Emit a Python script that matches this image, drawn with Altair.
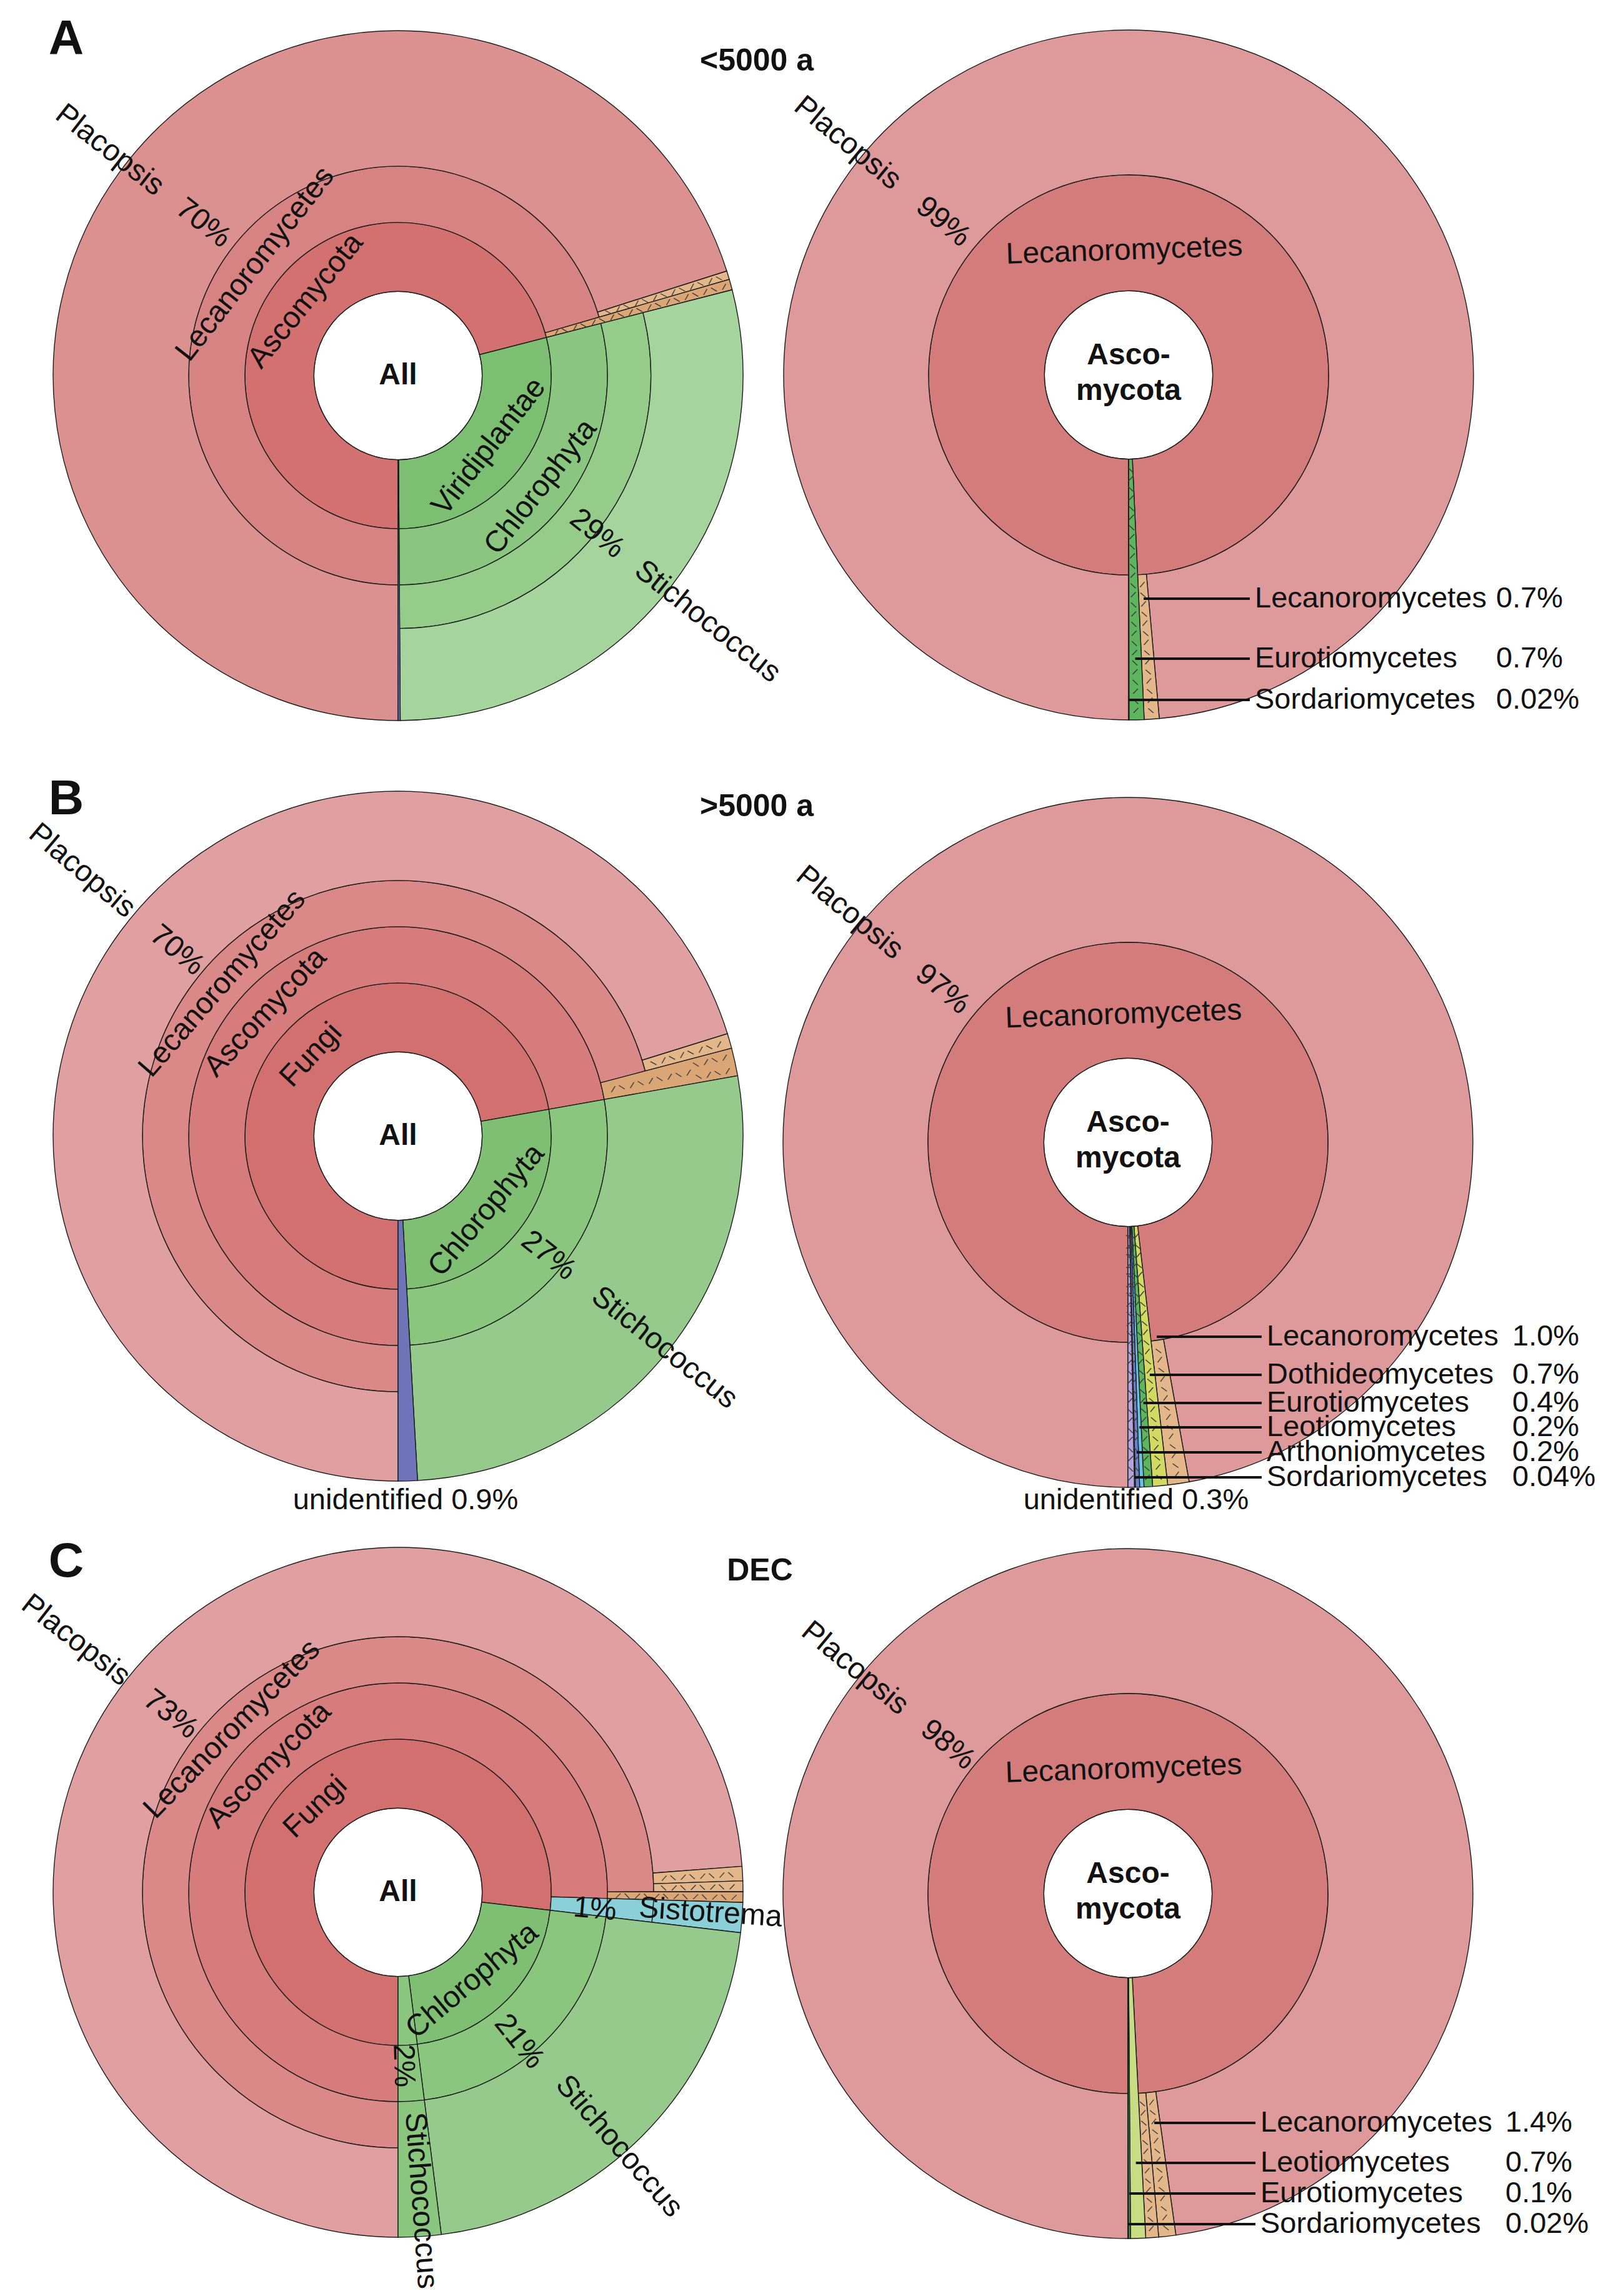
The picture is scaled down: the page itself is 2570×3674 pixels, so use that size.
import math
import altair as alt
import pandas as pd

# ------------------------------------------------------------------
# DATA : taxonomic trees
# (node id, parent id, share of reads in %, colour group, ranks spanned)
# children are listed in the clockwise order in which they are drawn
# ------------------------------------------------------------------
A_LEFT = [
    ("All", None, 100.0, "root", 1),
    ("Ascomycota", "All", 71.0, "redA1", 1),
    ("Lecanoromycetes", "Ascomycota", 70.5, "redA2", 1),
    ("Placopsis", "Lecanoromycetes", 70.1, "redA3", 2),
    ("Lecanoromycetes other", "Lecanoromycetes", 0.4, "tan1", 2),
    ("Ascomycota other", "Ascomycota", 0.5, "tan2", 3),
    ("Viridiplantae", "All", 28.9, "grnA1", 1),
    ("Chlorophyta", "Viridiplantae", 28.9, "grnA2", 1),
    ("Trebouxiophyceae", "Chlorophyta", 28.9, "grnA3", 1),
    ("Stichococcus", "Trebouxiophyceae", 28.9, "grnA4", 1),
    ("unidentified", "All", 0.1, "unid", 4),
]

A_RIGHT = [
    ("Ascomycota", None, 100.0, "root", 1),
    ("Lecanoromycetes", "Ascomycota", 99.28, "redR1", 1),
    ("Placopsis", "Lecanoromycetes", 98.58, "redR2", 1),
    ("Lecanoromycetes other", "Lecanoromycetes", 0.7, "tan1", 1),
    ("Eurotiomycetes", "Ascomycota", 0.7, "grnE", 2),
    ("Sordariomycetes", "Ascomycota", 0.02, "pur", 2),
]

B_LEFT = [
    ("All", None, 100.0, "root", 1),
    ("Fungi", "All", 72.2, "red1", 1),
    ("Ascomycota", "Fungi", 72.2, "red2", 1),
    ("Lecanoromycetes", "Ascomycota", 70.9, "red3", 1),
    ("Placopsis", "Lecanoromycetes", 70.2, "red4", 1),
    ("Lecanoromycetes other", "Lecanoromycetes", 0.7, "tan1", 1),
    ("Ascomycota other", "Ascomycota", 1.3, "tan2", 2),
    ("Chlorophyta", "All", 26.9, "grn1", 1),
    ("Trebouxiophyceae", "Chlorophyta", 26.9, "grn2", 1),
    ("Stichococcus", "Trebouxiophyceae", 26.9, "grn3", 2),
    ("unidentified", "All", 0.9, "unid", 4),
]

B_RIGHT = [
    ("Ascomycota", None, 100.0, "root", 1),
    ("Lecanoromycetes", "Ascomycota", 98.16, "redR1", 1),
    ("Placopsis", "Lecanoromycetes", 97.16, "redR2", 1),
    ("Lecanoromycetes other", "Lecanoromycetes", 1.0, "tan1", 1),
    ("Dothideomycetes", "Ascomycota", 0.7, "yel", 2),
    ("Eurotiomycetes", "Ascomycota", 0.4, "grnE", 2),
    ("Leotiomycetes", "Ascomycota", 0.2, "cyanL", 2),
    ("Arthoniomycetes", "Ascomycota", 0.2, "blu", 2),
    ("Sordariomycetes", "Ascomycota", 0.04, "pur", 2),
    ("unidentified", "Ascomycota", 0.3, "lav", 2),
]

C_LEFT = [
    ("All", None, 100.0, "root", 1),
    ("Fungi", "All", 76.87, "red1", 1),
    ("Ascomycota", "Fungi", 75.47, "red2", 1),
    ("Lecanoromycetes", "Ascomycota", 74.97, "red3", 1),
    ("Placopsis", "Lecanoromycetes", 73.8, "red4", 1),
    ("Lecanoromycetes other 1", "Lecanoromycetes", 0.67, "tan1", 1),
    ("Lecanoromycetes other 2", "Lecanoromycetes", 0.5, "tan1", 1),
    ("Ascomycota other", "Ascomycota", 0.5, "tan2", 2),
    ("Basidiomycota", "Fungi", 1.4, "cyan", 1),
    ("Agaricomycetes", "Basidiomycota", 1.4, "cyan", 1),
    ("Sistotrema", "Agaricomycetes", 1.4, "cyan", 1),
    ("Chlorophyta", "All", 21.13, "grn1", 1),
    ("Trebouxiophyceae", "Chlorophyta", 21.13, "grn2", 1),
    ("Stichococcus", "Trebouxiophyceae", 21.13, "grn3", 2),
    ("Chlorophyta 2", "All", 2.0, "grn2", 1),
    ("Trebouxiophyceae 2", "Chlorophyta 2", 2.0, "grn2", 1),
    ("Stichococcus 2", "Trebouxiophyceae 2", 2.0, "grn2", 2),
]

C_RIGHT = [
    ("Ascomycota", None, 100.0, "root", 1),
    ("Lecanoromycetes", "Ascomycota", 99.18, "redR1", 1),
    ("Placopsis", "Lecanoromycetes", 97.78, "redR2", 1),
    ("Lecanoromycetes other 1", "Lecanoromycetes", 0.8, "tan1", 1),
    ("Lecanoromycetes other 2", "Lecanoromycetes", 0.6, "tan1", 1),
    ("Leotiomycetes", "Ascomycota", 0.7, "ygr", 2),
    ("Eurotiomycetes", "Ascomycota", 0.1, "dgr", 2),
    ("Sordariomycetes", "Ascomycota", 0.02, "pur", 2),
]

# call-outs of the right-hand panels: (class name, printed share, slice pointed at)
A_RIGHT_CALLOUTS = [
    ("Lecanoromycetes", "0.7%", "Lecanoromycetes other"),
    ("Eurotiomycetes", "0.7%", "Eurotiomycetes"),
    ("Sordariomycetes", "0.02%", "Sordariomycetes"),
]
B_RIGHT_CALLOUTS = [
    ("Lecanoromycetes", "1.0%", "Lecanoromycetes other"),
    ("Dothideomycetes", "0.7%", "Dothideomycetes"),
    ("Eurotiomycetes", "0.4%", "Eurotiomycetes"),
    ("Leotiomycetes", "0.2%", "Leotiomycetes"),
    ("Arthoniomycetes", "0.2%", "Arthoniomycetes"),
    ("Sordariomycetes", "0.04%", "Sordariomycetes"),
]
C_RIGHT_CALLOUTS = [
    ("Lecanoromycetes", "1.4%", "Lecanoromycetes other 1"),
    ("Leotiomycetes", "0.7%", "Leotiomycetes"),
    ("Eurotiomycetes", "0.1%", "Eurotiomycetes"),
    ("Sordariomycetes", "0.02%", "Sordariomycetes"),
]

PANEL_TITLES = ["<5000 a", ">5000 a", "DEC"]
PANEL_LETTERS = ["A", "B", "C"]

# ------------------------------------------------------------------
# LAYOUT / STYLE
# ------------------------------------------------------------------
FONT = "Liberation Sans"
FS = 48
FS_CALLOUT = 47
R = 552
W, H = 2554, 3658
M = 8  # page margin

CENTRES = {"AL": (637, 601), "AR": (1806, 600),
           "BL": (637, 1818), "BR": (1805, 1828),
           "CL": (637, 3028), "CR": (1805, 3030)}

RINGS_AL = [0, 0.244, 0.444, 0.607, 0.733, 1.0]
RINGS_L = [0, 0.244, 0.444, 0.607, 0.741, 1.0]
RINGS_R = [0, 0.244, 0.58, 1.0]

PALETTE = {
    "root": "#FFFFFF",
    "redA1": "#D37171", "redA2": "#D88383", "redA3": "#DC9191",
    "red1": "#D27070", "red2": "#D67C7C", "red3": "#DA8888", "red4": "#E0A0A1",
    "redR1": "#D47C7C", "redR2": "#DE9A9B",
    "grnA1": "#7DBF72", "grnA2": "#8AC67F", "grnA3": "#95CC8A", "grnA4": "#A6D49D",
    "grn1": "#7EBF73", "grn2": "#8AC67E", "grn3": "#96CA8D",
    "tan1": "#E3B789", "tan2": "#DBA676",
    "unid": "#6F74B8", "cyan": "#8BD0D8",
    "yel": "#D3DA62", "grnE": "#5DB55E", "blu": "#6E80C9", "cyanL": "#66C4E2",
    "pur": "#9E84CC", "lav": "#B7A3DA", "ygr": "#C8DC84", "dgr": "#4E9E5C",
}
HATCHED = {"tan1", "tan2", "grnE", "yel", "blu", "lav"}

# label placement: (text, clock angle in degrees, radius fraction, mode)
LABELS = {
    "AL": [("Ascomycota", 309, 0.344, "tan"), ("Lecanoromycetes", 308, 0.525, "tan"),
           ("Placopsis", 308, 0.875, "in"), ("70%", 308, 0.63, "in"),
           ("Viridiplantae", 128, 0.335, "tan"), ("Chlorophyta", 128, 0.525, "tan"),
           ("29%", 128.5, 0.65, "out"), ("Stichococcus", 128.5, 0.89, "out")],
    "AR": [("Lecanoromycetes", 358, 0.36, "tan"),
           ("Placopsis", 309.5, 0.87, "in"), ("99%", 309.5, 0.61, "in")],
    "BL": [("Fungi", 313, 0.344, "tan"), ("Ascomycota", 313, 0.525, "tan"),
           ("Lecanoromycetes", 311, 0.674, "tan"),
           ("Placopsis", 310, 1.01, "in"), ("70%", 310, 0.75, "in"),
           ("Chlorophyta", 130, 0.335, "tan"),
           ("27%", 128.5, 0.47, "out"), ("Stichococcus", 128.5, 0.73, "out")],
    "BR": [("Lecanoromycetes", 358, 0.37, "tan"),
           ("Placopsis", 309.5, 0.86, "in"), ("97%", 309.5, 0.61, "in")],
    "CL": [("Fungi", 316, 0.344, "tan"), ("Ascomycota", 314.5, 0.525, "tan"),
           ("Lecanoromycetes", 314.5, 0.674, "tan"),
           ("Placopsis", 308, 1.0, "in"), ("73%", 308, 0.75, "in"),
           ("Chlorophyta", 140, 0.335, "tan"),
           ("21%", 141, 0.47, "out"), ("Stichococcus", 139, 0.72, "out"),
           ("2%", 178.3, 0.44, "out"), ("Stichococcus", 175.8, 0.64, "out"),
           ("1%", 95, 0.51, "out"), ("Sistotrema", 93.8, 0.70, "out")],
    "CR": [("Lecanoromycetes", 358, 0.36, "tan"),
           ("Placopsis", 309.5, 0.84, "in"), ("98%", 309.5, 0.59, "in")],
}

CALLOUT_LAYOUT = {  # row y positions, name column x, share column x
    "AR": ([958, 1054, 1120], 2008, 2394),
    "BR": ([2139, 2200, 2245, 2284, 2324, 2364], 2027, 2420),
    "CR": ([3397, 3461, 3510, 3559], 2017, 2409),
}

TITLE_POS = [(1211, 98), (1211, 1291), (1216, 2514)]
LETTER_POS = [(106, 64), (106, 1280), (106, 2500)]
UNID_LABELS = [("unidentified 0.9%", 649, 2401), ("unidentified 0.3%", 1818, 2401)]
CENTRE_TEXT = {"AL": ["All"], "BL": ["All"], "CL": ["All"],
               "AR": ["Asco-", "mycota"], "BR": ["Asco-", "mycota"], "CR": ["Asco-", "mycota"]}


# ------------------------------------------------------------------
def layout_tree(rows, rings, key):
    cx, cy = CENTRES[key]
    kids = {}
    for row in rows:
        kids.setdefault(row[1], []).append(row)
    recs = []

    def place(row, start, level):
        node, parent, val, grp, span = row
        end_level = level + span
        recs.append(dict(panel=key, node=node, grp=grp, t0=start, t1=start + val,
                         r_in=rings[level], r_out=rings[end_level],
                         fill=PALETTE[grp], cx=cx - M, cy=cy - M))
        s = start
        for ch in kids.get(node, []):
            place(ch, s, end_level)
            s += ch[2]

    place(kids[None][0], 0.0, 0)
    return recs


trees = {"AL": (A_LEFT, RINGS_AL), "AR": (A_RIGHT, RINGS_R),
         "BL": (B_LEFT, RINGS_L), "BR": (B_RIGHT, RINGS_R),
         "CL": (C_LEFT, RINGS_L), "CR": (C_RIGHT, RINGS_R)}
arc_recs = []
for key, (rows, rings) in trees.items():
    arc_recs += layout_tree(rows, rings, key)
arcs_df = pd.DataFrame(arc_recs)

# hatching dashes inside the collapsed / minor slices
hatch_recs = []
for i, rec in enumerate(arc_recs):
    if rec["grp"] not in HATCHED:
        continue
    tmid = (rec["t0"] + rec["t1"]) / 2
    deg = 180 + tmid * 3.6
    width_rad = (rec["t1"] - rec["t0"]) * 3.6 * math.pi / 180
    r = rec["r_in"] + 0.03
    k = 0
    while r < rec["r_out"] - 0.015:
        wpx = width_rad * r * R
        ncol = max(1, int(wpx // 20))
        for c in range(ncol):
            t = rec["t0"] + (rec["t1"] - rec["t0"]) * (c + 0.5) / ncol
            tilt = 45 if (i + k) % 2 == 0 else -45
            hatch_recs.append(dict(tp=t, rp=r, rot=(deg - 90 + tilt) % 360,
                                   cx=rec["cx"], cy=rec["cy"], text="–"))
        r += 0.028
        k += 1
hatch_df = pd.DataFrame(hatch_recs)

# polar labels
lab_recs = []
for key, labs in LABELS.items():
    cx, cy = CENTRES[key]
    for text, deg, rf, mode in labs:
        if mode == "tan":
            rot = deg - 180 if 90 < deg < 270 else deg
            anchor = "center"
        elif mode == "in":
            rot = deg - 270
            anchor = "right"
        else:
            rot = deg - 90
            anchor = "left"
        lab_recs.append(dict(text=text, tp=((deg - 180) % 360) / 3.6, rp=rf,
                             rot=rot % 360, anchor=anchor, cx=cx - M, cy=cy - M))
lab_df = pd.DataFrame(lab_recs)

# call-outs
rule_recs, co_recs, unid_recs = [], [], []
for key, callouts in (("AR", A_RIGHT_CALLOUTS), ("BR", B_RIGHT_CALLOUTS), ("CR", C_RIGHT_CALLOUTS)):
    ys, xname, xpct = CALLOUT_LAYOUT[key]
    cx, cy = CENTRES[key]
    sub = arcs_df[arcs_df["panel"] == key].set_index("node")
    for (name, pct, target), y in zip(callouts, ys):
        tmid = (sub.loc[target, "t0"] + sub.loc[target, "t1"]) / 2
        th = math.radians(180 + tmid * 3.6)
        r = (cy - y) / math.cos(th)
        x0 = cx + r * math.sin(th)
        rule_recs.append(dict(x=x0 - M, x2=xname - 8 - M, y=y - M))
        co_recs.append(dict(text=name, x=xname - M, y=y - M))
        co_recs.append(dict(text=pct, x=xpct - M, y=y - M))
for text, x, y in UNID_LABELS:
    unid_recs.append(dict(text=text, x=x - M, y=y - M))
rule_df = pd.DataFrame(rule_recs)
co_df = pd.DataFrame(co_recs)
unid_df = pd.DataFrame(unid_recs)

centre_recs = []
for key, lines in CENTRE_TEXT.items():
    cx, cy = CENTRES[key]
    offs = [0] if len(lines) == 1 else [-31, 26]
    for ln, o in zip(lines, offs):
        centre_recs.append(dict(text=ln, x=cx - M, y=cy + o - M))
centre_df = pd.DataFrame(centre_recs)

title_df = pd.DataFrame([dict(text=t, x=p[0] - M, y=p[1] - M) for t, p in zip(PANEL_TITLES, TITLE_POS)])
letter_df = pd.DataFrame([dict(text=t, x=p[0] - M, y=p[1] - M) for t, p in zip(PANEL_LETTERS, LETTER_POS)])

# ------------------------------------------------------------------
THETA = alt.Scale(domain=[0, 100], range=[math.pi, 3 * math.pi])
RADIUS = alt.Scale(type="linear", domain=[0, 1], range=[0, R], zero=True)
PX = dict(scale=None, axis=None)

arcs = alt.Chart(arcs_df).mark_arc(stroke="#1c1c1c", strokeWidth=1.4).encode(
    x=alt.X("cx:Q", **PX), y=alt.Y("cy:Q", **PX),
    theta=alt.Theta("t0:Q", scale=THETA, stack=None), theta2="t1:Q",
    radius=alt.Radius("r_out:Q", scale=RADIUS), radius2="r_in:Q",
    fill=alt.Fill("fill:N", scale=None),
)


def polar_text(df, anchor, size=FS, color="#111111"):
    return alt.Chart(df).mark_text(
        align=anchor, baseline="middle", font=FONT, fontSize=size, color=color
    ).encode(
        x=alt.X("cx:Q", **PX), y=alt.Y("cy:Q", **PX),
        theta=alt.Theta("tp:Q", scale=THETA, stack=None),
        radius=alt.Radius("rp:Q", scale=RADIUS),
        angle=alt.Angle("rot:Q", scale=None),
        text="text:N",
    )


def px_text(df, **kw):
    return alt.Chart(df).mark_text(font=FONT, color="#111111", baseline="middle", **kw).encode(
        x=alt.X("x:Q", **PX), y=alt.Y("y:Q", **PX), text="text:N")


rules = alt.Chart(rule_df).mark_rule(color="#111111", strokeWidth=4).encode(
    x=alt.X("x:Q", **PX), x2="x2:Q", y=alt.Y("y:Q", **PX))

chart = alt.layer(
    arcs,
    polar_text(hatch_df, "center", size=20, color="#3b3b3b"),
    polar_text(lab_df[lab_df["anchor"] == "center"], "center"),
    polar_text(lab_df[lab_df["anchor"] == "left"], "left"),
    polar_text(lab_df[lab_df["anchor"] == "right"], "right"),
    rules,
    px_text(co_df, align="left", fontSize=FS_CALLOUT),
    px_text(unid_df, align="center", fontSize=FS_CALLOUT),
    px_text(centre_df, align="center", fontSize=48, fontWeight="bold"),
    px_text(title_df, align="center", fontSize=50, fontWeight="bold"),
    px_text(letter_df, align="center", fontSize=78, fontWeight="bold"),
).properties(
    width=W, height=H, padding=0,
    autosize=alt.AutoSizeParams(type="none"),
    background="white",
).configure_view(stroke=None)

chart.save("out.html", embed_options={"renderer": "svg", "actions": False})
